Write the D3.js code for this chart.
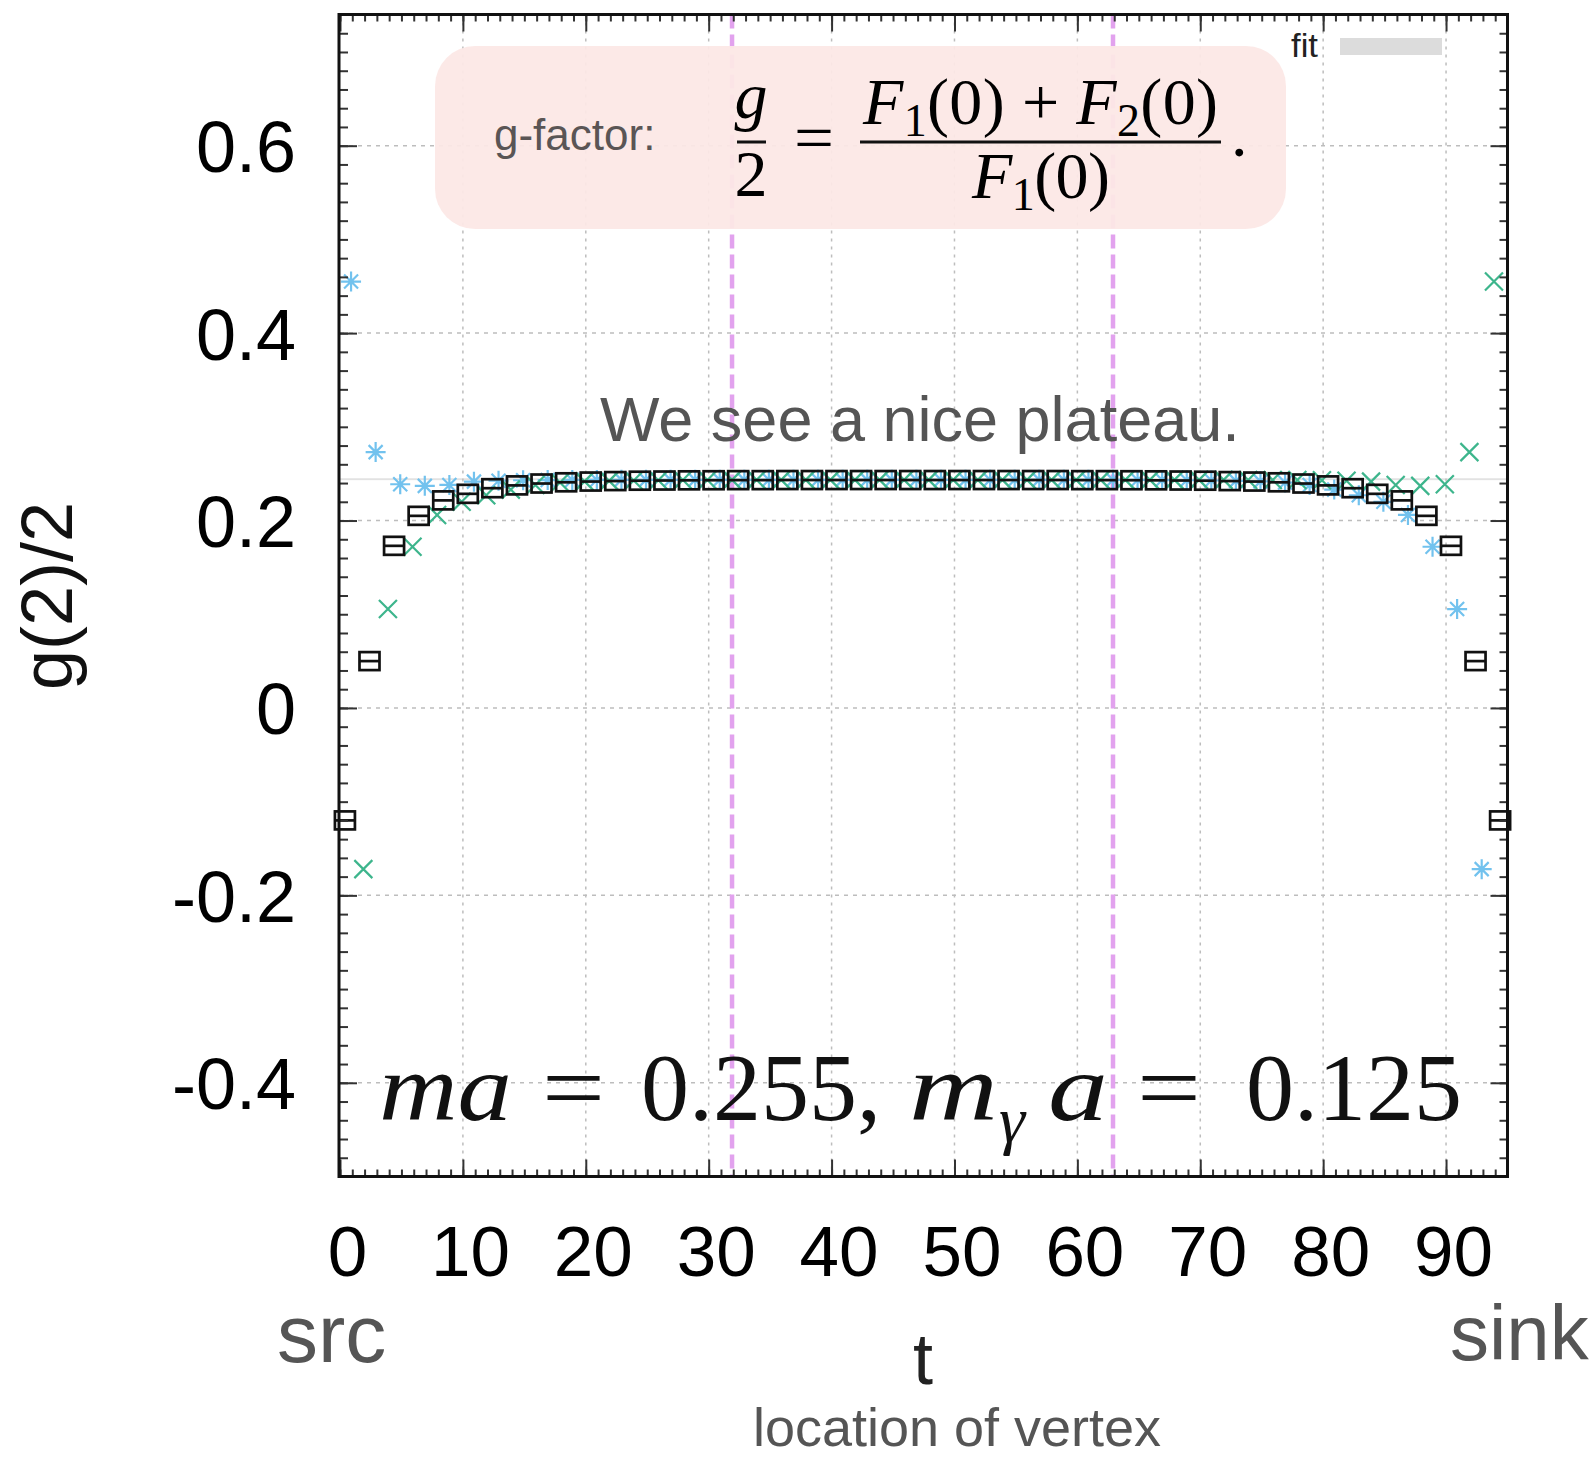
<!DOCTYPE html>
<html>
<head>
<meta charset="utf-8">
<script src="https://cdn.jsdelivr.net/npm/d3@7/dist/d3.min.js"></script>
<style>
  body { margin: 0; background: #fff; }
  svg text { font-family: "Liberation Sans", Arial, Helvetica, sans-serif; }
  svg text.math { font-family: "Liberation Serif", "DejaVu Serif", serif; }
</style>
</head>
<body>
<svg id="chart" width="1596" height="1457"></svg>
<script>
// lattice sites of the three data sets
const tAvg = [0,2,4,6,8,10,12,14,16,18,20,22,24,26,28,30,32,34,36,38,40,42,44,46,
              48,50,52,54,56,58,60,62,64,66,68,70,72,74,76,78,80,82,84,86,88,90,92,94];
const tFwd = [0,2,4,6,8,10,12,14,16,18,20,22,24,26,28,30,32,34,36,38,40,42,44,46,
              48,50,52,54,56,58,60,62,64,66,68,70,72,74,76,78,80,82,84,86,88,90,92];
const tBwd = [1,3,5,7,9,11,13,15,17,19,21,23,25,27,29,31,33,35,37,39,41,43,45,47,
              49,51,53,55,57,59,61,63,65,67,69,71,73,75,77,79,81,83,85,87,89,91,93];

// averaged g/2 (black boxes)
const gAvg = [-0.120, 0.050, 0.173, 0.205, 0.2215, 0.2285, 0.2345, 0.2375, 0.2395, 0.2408,
              0.2416, 0.2421, 0.2425, 0.2427, 0.2429, 0.2430, 0.2431, 0.2431, 0.2432, 0.2432,
              0.2432, 0.2432, 0.2432, 0.2432, 0.2432, 0.2432, 0.2432, 0.2432, 0.2432, 0.2432,
              0.2431, 0.2431, 0.2430, 0.2429, 0.2427, 0.2425, 0.2421, 0.2416, 0.2408, 0.2395,
              0.2375, 0.2345, 0.2285, 0.2215, 0.205, 0.173, 0.050, -0.120];
// forward ordering (blue stars)
const gFwd = [0.455, 0.273, 0.2387, 0.237, 0.238, 0.2415, 0.2425, 0.2430, 0.2432, 0.2433,
              0.2433, 0.2434, 0.2434, 0.2434, 0.2434, 0.2434, 0.2434, 0.2434, 0.2434, 0.2434,
              0.2434, 0.2434, 0.2434, 0.2434, 0.2434, 0.2434, 0.2434, 0.2434, 0.2434, 0.2434,
              0.2434, 0.2434, 0.2433, 0.2432, 0.2430, 0.2427, 0.2423, 0.2418, 0.2405, 0.238,
              0.233, 0.227, 0.220, 0.206, 0.172, 0.1055, -0.172];
// backward ordering (green crosses)
const gBwd = [-0.172, 0.1055, 0.172, 0.206, 0.220, 0.227, 0.233, 0.238, 0.2405, 0.2418,
              0.2423, 0.2427, 0.2430, 0.2432, 0.2433, 0.2434, 0.2434, 0.2434, 0.2434, 0.2434,
              0.2434, 0.2434, 0.2434, 0.2434, 0.2434, 0.2434, 0.2434, 0.2434, 0.2434, 0.2434,
              0.2434, 0.2434, 0.2434, 0.2434, 0.2434, 0.2434, 0.2433, 0.2433, 0.2432, 0.2430,
              0.2425, 0.2415, 0.238, 0.237, 0.2387, 0.273, 0.455];

const fitValue = 0.2441, fitErr = 0.0010;
const fitRange = [31.9, 62.9];
const xTicks = [0,10,20,30,40,50,60,70,80,90];
const yTicks = [-0.4,-0.2,0,0.2,0.4,0.6];
const yTickLabels = ["-0.4","-0.2","0","0.2","0.4","0.6"];

const svg = d3.select("#chart");
const x = d3.scaleLinear().domain([0, 95]).range([340, 1507.5]);
const y = d3.scaleLinear().domain([-0.5, 0.74]).range([1176.5, 14.5]);
const [x0, x1] = x.range(), [yb, yt] = y.range();

// fit band
svg.append("rect")
  .attr("x", x(0)).attr("width", x(95) - x(0))
  .attr("y", y(fitValue + fitErr)).attr("height", y(fitValue - fitErr) - y(fitValue + fitErr))
  .attr("fill", "#e2e2e2");

// grid
svg.append("g").selectAll("line").data(xTicks.slice(1)).join("line")
  .attr("x1", d => x(d)).attr("x2", d => x(d)).attr("y1", yt).attr("y2", yb)
  .attr("stroke", "#bdbdbd").attr("stroke-width", 1.5).attr("stroke-dasharray", "3,5");
svg.append("g").selectAll("line").data(yTicks).join("line")
  .attr("x1", x0).attr("x2", x1).attr("y1", d => y(d)).attr("y2", d => y(d))
  .attr("stroke", "#bdbdbd").attr("stroke-width", 1.5).attr("stroke-dasharray", "4,5");

// fit range markers
svg.append("g").selectAll("line").data(fitRange).join("line")
  .attr("x1", d => x(d)).attr("x2", d => x(d)).attr("y1", yt).attr("y2", yb)
  .attr("stroke", "#e2a2ee").attr("stroke-width", 4.5).attr("stroke-dasharray", "14,6");

// blue stars
const star = svg.append("g").attr("stroke", "#72c2ee").attr("stroke-width", 2.2).attr("fill", "none");
star.selectAll("path").data(tFwd.map((t, i) => [t + 0.9, gFwd[i]])).join("path")
  .attr("d", d => {
    const cx = x(d[0]), cy = y(d[1]), r = 10, q = 7;
    return `M${cx - r},${cy}H${cx + r}M${cx},${cy - r}V${cy + r}` +
           `M${cx - q},${cy - q}L${cx + q},${cy + q}M${cx - q},${cy + q}L${cx + q},${cy - q}`;
  });

// green crosses
const cross = svg.append("g").attr("stroke", "#3db58c").attr("stroke-width", 2.2).attr("fill", "none");
cross.selectAll("path").data(tBwd.map((t, i) => [t + 0.9, gBwd[i]])).join("path")
  .attr("d", d => {
    const cx = x(d[0]), cy = y(d[1]), q = 9;
    return `M${cx - q},${cy - q}L${cx + q},${cy + q}M${cx - q},${cy + q}L${cx + q},${cy - q}`;
  });

// black boxes
const box = svg.append("g").attr("stroke", "#111").attr("stroke-width", 2.7).attr("fill", "none");
const boxes = box.selectAll("g").data(tAvg.map((t, i) => [t + 0.4, gAvg[i]])).join("g")
  .attr("transform", d => `translate(${x(d[0])},${y(d[1])})`);
boxes.append("rect").attr("x", -10).attr("y", -9).attr("width", 20).attr("height", 18);
boxes.append("line").attr("x1", -10).attr("x2", 10).attr("y1", 0).attr("y2", 0);

// formula box
svg.append("rect").attr("x", 435).attr("y", 46).attr("width", 851).attr("height", 183)
  .attr("rx", 40).attr("fill", "#fce8e5").attr("fill-opacity", 0.94);
svg.append("text").attr("x", 494).attr("y", 150).attr("font-size", 44).attr("fill", "#5a5555")
  .text("g-factor:");
svg.append("text").attr("class", "math").attr("x", 751).attr("y", 118).attr("text-anchor", "middle")
  .attr("font-size", 66).attr("font-style", "italic").text("g");
svg.append("text").attr("class", "math").attr("x", 751).attr("y", 196).attr("text-anchor", "middle")
  .attr("font-size", 66).text("2");
svg.append("line").attr("x1", 737).attr("x2", 766).attr("y1", 142).attr("y2", 142)
  .attr("stroke", "#111").attr("stroke-width", 3);
svg.append("text").attr("class", "math").attr("x", 814).attr("y", 160).attr("text-anchor", "middle")
  .attr("font-size", 66).attr("textLength", 40).attr("lengthAdjust", "spacingAndGlyphs").text("=");
const num = svg.append("text").attr("class", "math").attr("x", 863).attr("y", 124)
  .attr("font-size", 66).attr("textLength", 355).attr("lengthAdjust", "spacing");
num.append("tspan").attr("font-style", "italic").text("F");
num.append("tspan").attr("font-size", 46).attr("dy", 12).text("1");
num.append("tspan").attr("dy", -12).text("(0) + ");
num.append("tspan").attr("font-style", "italic").text("F");
num.append("tspan").attr("font-size", 46).attr("dy", 12).text("2");
num.append("tspan").attr("dy", -12).text("(0)");
svg.append("line").attr("x1", 860).attr("x2", 1221).attr("y1", 142).attr("y2", 142)
  .attr("stroke", "#111").attr("stroke-width", 3);
const den = svg.append("text").attr("class", "math").attr("x", 972).attr("y", 198)
  .attr("font-size", 66).attr("textLength", 138).attr("lengthAdjust", "spacing");
den.append("tspan").attr("font-style", "italic").text("F");
den.append("tspan").attr("font-size", 46).attr("dy", 12).text("1");
den.append("tspan").attr("dy", -12).text("(0)");
svg.append("text").attr("class", "math").attr("x", 1231).attr("y", 156)
  .attr("font-size", 66).text(".");

// legend
svg.append("text").attr("x", 1291).attr("y", 57).attr("font-size", 33).attr("fill", "#222")
  .attr("textLength", 27).attr("lengthAdjust", "spacingAndGlyphs").text("fit");
svg.append("rect").attr("x", 1340).attr("y", 38).attr("width", 102).attr("height", 17).attr("fill", "#dcdcdc");

// annotation
svg.append("text").attr("x", 600).attr("y", 441).attr("font-size", 63).attr("fill", "#555")
  .text("We see a nice plateau.");

// masses
const ms = svg.append("text").attr("class", "math").attr("y", 1120).attr("font-size", 96).attr("fill", "#111");
ms.append("tspan").attr("x", 379).attr("font-style", "italic")
  .attr("textLength", 133).attr("lengthAdjust", "spacingAndGlyphs").text("ma");
ms.append("tspan").attr("x", 542)
  .attr("textLength", 63).attr("lengthAdjust", "spacingAndGlyphs").text("=");
ms.append("tspan").attr("x", 641).text("0.255,");
ms.append("tspan").attr("x", 909).attr("font-style", "italic")
  .attr("textLength", 89).attr("lengthAdjust", "spacingAndGlyphs").text("m");
ms.append("tspan").attr("x", 999).attr("dy", 22).attr("font-size", 66).attr("font-style", "italic").text("γ");
ms.append("tspan").attr("x", 1048).attr("dy", -22).attr("font-style", "italic")
  .attr("textLength", 60).attr("lengthAdjust", "spacingAndGlyphs").text("a");
ms.append("tspan").attr("x", 1137)
  .attr("textLength", 64).attr("lengthAdjust", "spacingAndGlyphs").text("=");
ms.append("tspan").attr("x", 1246).text("0.125");

// axes (inward ticks on all four sides)
function axis(gen, tr, vals, size, fmt) {
  const g = svg.append("g").attr("transform", tr)
    .call(gen.tickValues(vals).tickSize(-size).tickSizeOuter(0).tickFormat(fmt || (() => "")));
  g.select(".domain").remove();
  g.attr("font-size", null).attr("font-family", null).attr("color", "#333");
  g.selectAll(".tick line").attr("stroke-width", 2);
  return g;
}
const xMinor = d3.range(0, 96, 1), yMinor = d3.range(-25, 38).map(i => +(i * 0.02).toFixed(2));
axis(d3.axisBottom(x), `translate(0,${yb})`, xMinor, 7);
axis(d3.axisTop(x), `translate(0,${yt})`, xMinor, 7);
axis(d3.axisLeft(y), `translate(${x0},0)`, yMinor, 8);
axis(d3.axisRight(y), `translate(${x1},0)`, yMinor, 8);
axis(d3.axisTop(x), `translate(0,${yt})`, xTicks, 17);
axis(d3.axisRight(y), `translate(${x1},0)`, yTicks, 17);
const gx = axis(d3.axisBottom(x), `translate(0,${yb})`, xTicks, 17, d3.format("d"));
gx.selectAll("text").attr("y", 99).attr("dy", 0).attr("dx", 7)
  .attr("font-size", 71).attr("fill", "#000");
const gy = axis(d3.axisLeft(y), `translate(${x0},0)`, yTicks, 17, (d, i) => yTickLabels[i]);
gy.selectAll("text").attr("x", -44).attr("dy", "0.36em")
  .attr("font-size", 72).attr("fill", "#000");

// frame
svg.append("rect").attr("x", x0 - 1).attr("y", yt).attr("width", x1 - x0 + 1).attr("height", yb - yt)
  .attr("fill", "none").attr("stroke", "#111").attr("stroke-width", 3);

// axis titles
svg.append("text").attr("transform", "translate(72,596) rotate(-90)").attr("text-anchor", "middle")
  .attr("font-size", 72).attr("fill", "#111").text("g(2)/2");
svg.append("text").attr("x", 923).attr("y", 1384).attr("text-anchor", "middle")
  .attr("font-size", 72).attr("fill", "#222").text("t");
svg.append("text").attr("x", 957).attr("y", 1446).attr("text-anchor", "middle")
  .attr("font-size", 54).attr("fill", "#555").text("location of vertex");
svg.append("text").attr("x", 277).attr("y", 1362).attr("font-size", 82).attr("fill", "#555").text("src");
svg.append("text").attr("x", 1450).attr("y", 1360).attr("font-size", 78).attr("fill", "#555").text("sink");
</script>
</body>
</html>
